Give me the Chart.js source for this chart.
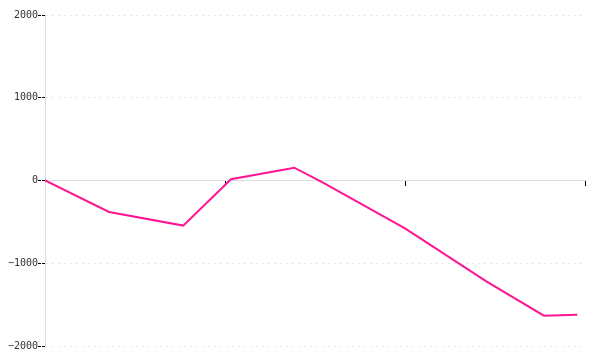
<!DOCTYPE html>
<html>
<head>
<meta charset="utf-8">
<script src="https://cdn.jsdelivr.net/npm/chart.js@4/dist/chart.umd.min.js"></script>
<style>
  html, body { margin: 0; padding: 0; background: #fff; }
  #wrap { width: 600px; height: 360px; }
</style>
</head>
<body>
<div id="wrap"><canvas id="lineChart"></canvas></div>
<script>
// x positions along the axis (axis runs 0..30, ticks every 10)
const xValues = [0, 3.56, 7.68, 10.33, 13.85, 15.47, 20, 24.54, 27.72, 29.57];
const yValues = [0, -380, -545, 15, 155, -30, -578, -1223, -1634, -1622];
const yTicks = [-2000, -1000, 0, 1000, 2000];

const points = xValues.map((x, i) => ({ x: x, y: yValues[i] }));

const ctx = document.getElementById('lineChart').getContext('2d');
new Chart(ctx, {
  type: 'line',
  data: {
    datasets: [{
      data: points,
      borderColor: '#ff1493',
      borderWidth: 2,
      pointRadius: 0,
      tension: 0,
      fill: false
    }]
  },
  options: {
    responsive: true,
    maintainAspectRatio: false,
    animation: false,
    layout: { padding: { top: 15, right: 15, bottom: 14, left: 0 } },
    plugins: { legend: { display: false }, tooltip: { enabled: false } },
    scales: {
      x: {
        type: 'linear',
        min: 0,
        max: 30,
        position: { y: 0 },
        ticks: { stepSize: 10, display: false },
        grid: {
          drawOnChartArea: false,
          tickColor: '#000',
          tickLength: 5,
          tickWidth: 1
        },
        border: { color: '#ddd', width: 1 }
      },
      y: {
        min: -2000,
        max: 2000,
        afterBuildTicks: scale => {
          scale.ticks = yTicks.map(v => ({ value: v }));
        },
        afterFit: scale => { scale.width = 45; },
        ticks: {
          padding: 0,
          color: '#333',
          font: { family: 'DejaVu Sans Mono', size: 10 },
          callback: v => String(v).replace('-', '\u2212')
        },
        grid: {
          color: '#e6e6e6',
          tickColor: '#000',
          tickLength: 7,
          tickBorderDash: [3, 1]
        },
        border: { color: '#ddd', dash: [2, 4] }
      }
    }
  }
});
</script>
</body>
</html>
